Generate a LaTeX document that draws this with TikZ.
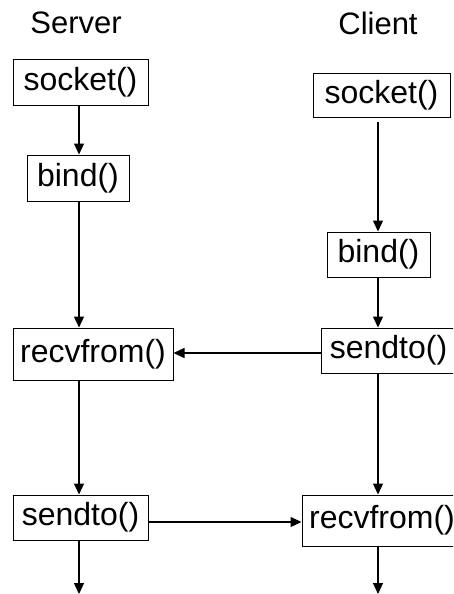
\documentclass[tikz,border=0pt]{standalone}
\usepackage{fontspec}
\setmainfont{Liberation Sans}
\usetikzlibrary{arrows.meta}
\begin{document}
\begin{tikzpicture}[x=1pt,y=-1pt,
 fn/.style={draw, line width=1pt, font=\fontsize{32}{38}\selectfont, inner sep=0pt, anchor=center},
 arr/.style={line width=1.2pt, -{Triangle[length=11pt,width=10pt]}},
 title/.style={font=\fontsize{31}{37}\selectfont, anchor=center}]
\useasboundingbox (0,0) rectangle (453,594);
\clip (0,0) rectangle (453,594);
\node[title] (tserv) at (76,23) {Server};
\node[title] (tcli) at (378,23) {Client};
\node[fn, minimum width=135pt, minimum height=45pt] (ssock) at (80.5,82.5) {socket()};
\node[fn, minimum width=102pt, minimum height=46pt] (sbind) at (78,178) {bind()};
\node[fn, minimum width=160pt, minimum height=52pt] (srecv) at (93,354) {recvfrom()};
\node[fn, minimum width=135pt, minimum height=45pt] (ssend) at (80.5,517.5) {sendto()};
\node[fn, minimum width=137pt, minimum height=44pt] (csock) at (381.5,95) {socket()};
\node[fn, minimum width=103pt, minimum height=45pt] (cbind) at (378.5,254.5) {bind()};
\node[fn, minimum width=135pt, minimum height=45pt] (csend) at (388.5,350.5) {sendto()};
\node[fn, minimum width=160pt, minimum height=51pt] (crecv) at (382,520.5) {recvfrom()};
\coordinate (sx) at (79,0);
\coordinate (cx) at (378,0);
\coordinate (hy1) at (0,353);
\coordinate (hy2) at (0,522);
\coordinate (send) at (79,594);
\coordinate (cend) at (378,594);
\draw[arr] (ssock.south -| sx) -- (sbind.north -| sx);
\draw[arr] (sbind.south -| sx) -- (srecv.north -| sx);
\draw[arr] (srecv.south -| sx) -- (ssend.north -| sx);
\draw[arr] (ssend.south -| sx) -- (send);
\draw[arr] ([yshift=-4pt]csock.south -| cx) -- (cbind.north -| cx);
\draw[arr] (cbind.south -| cx) -- (csend.north -| cx);
\draw[arr] (csend.south -| cx) -- (crecv.north -| cx);
\draw[arr] (crecv.south -| cx) -- (cend);
\draw[arr] (csend.west |- hy1) -- (srecv.east |- hy1);
\draw[arr] (ssend.east |- hy2) -- (crecv.west |- hy2);
\end{tikzpicture}
\end{document}
